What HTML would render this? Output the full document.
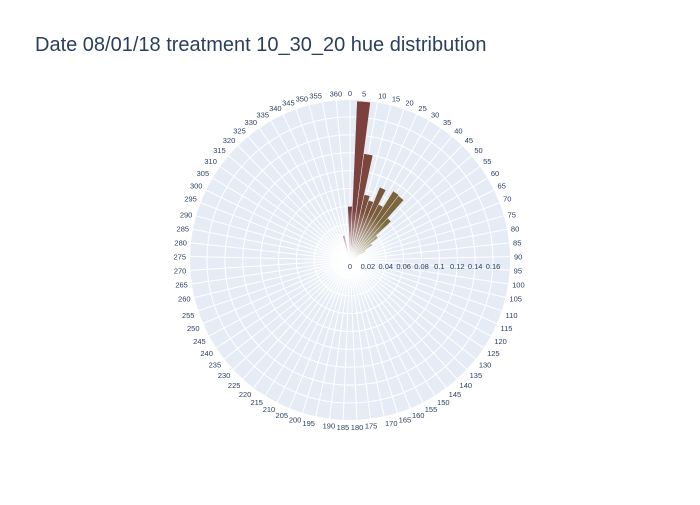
<!DOCTYPE html>
<html><head><meta charset="utf-8"><style>
body{margin:0;background:#fff}
svg text{font-family:"Liberation Sans",sans-serif}
</style></head><body>
<svg id="c" width="700" height="500">
<text x="35" y="51" font-size="20" fill="#2a3f5f">Date 08/01/18 treatment 10_30_20 hue distribution</text>
</svg>
<script>
const categories=[];for(let h=0;h<=360;h+=5)categories.push(h);
const hues=[0,5,10,15,20,25,30,35,40,45,50,55,60,65,345,350,355];
const values=[0.06,0.178,0.12,0.075,0.07,0.088,0.07,0.091,0.09,0.063,0.04,0.03,0.02,0.01,0.008,0.028,0.006];
const radialTicks=[0,0.02,0.04,0.06,0.08,0.1,0.12,0.14,0.16];
const NS="http://www.w3.org/2000/svg";
const svg=document.getElementById('c');
const cx=350,cy=260,R=160,rmax=0.179;
const n=categories.length,step=360/n;
function rs(v){return v/rmax*R;}
function ang(h){return categories.indexOf(h)*step;}
function pt(r,a){const t=a*Math.PI/180;return[cx+r*Math.sin(t),cy-r*Math.cos(t)];}
function mk(tag,at){const e=document.createElementNS(NS,tag);for(const k in at)e.setAttribute(k,at[k]);svg.appendChild(e);return e;}
const bg=mk('circle',{cx:cx,cy:cy,r:R,fill:'#e5ecf6'});


radialTicks.forEach(v=>{if(v>0){const c=mk('circle',{cx:cx,cy:cy,r:rs(v),fill:'none',stroke:'#fff','stroke-width':1});

}});
categories.forEach((h,i)=>{const a=i*step;const p=pt(R,a);
const l=mk('line',{x1:cx,y1:cy,x2:p[0],y2:p[1],stroke:'#fff','stroke-width':1});


const q=pt(R+4,a);const s=Math.sin(a*Math.PI/180),c=Math.cos(a*Math.PI/180);
const t=mk('text',{x:q[0],y:q[1]+(c>0.3?0:(c<-0.3?6:3)),'font-size':7.5,fill:'#2a3f5f','text-anchor':s>0.15?'start':(s<-0.15?'end':'middle')});
t.textContent=h;

});
hues.forEach((h,i)=>{const a=ang(h),r=rs(values[i]);const a1=a-step/2,a2=a+step/2;
const p1=pt(r,a1),p2=pt(r,a2);
const p=mk('path',{d:`M${cx},${cy}L${p1[0]},${p1[1]}A${r},${r} 0 0 1 ${p2[0]},${p2[1]}Z`,fill:`hsl(${h>180?0:h},35%,36%)`,stroke:'#e5ecf6','stroke-width':0.5});

});
const defs=mk('defs',{});defs.innerHTML='<radialGradient id="fade" cx="0.5" cy="0.5" r="0.5"><stop offset="0" stop-color="#fff" stop-opacity="0.95"/><stop offset="1" stop-color="#fff" stop-opacity="0"/></radialGradient>';
const f=mk('circle',{cx:cx,cy:cy,r:50,fill:'url(#fade)'});


radialTicks.forEach(v=>{const t=mk('text',{x:cx+rs(v),y:cy+9,'font-size':7.5,fill:'#2a3f5f','text-anchor':'middle'});
t.textContent=v;

});
</script>
</body></html>
